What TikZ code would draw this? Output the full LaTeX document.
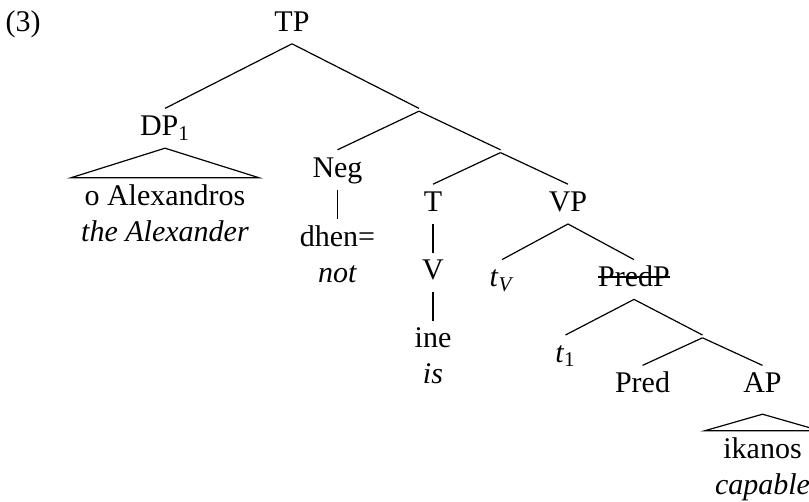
\documentclass[tikz,border=0pt]{standalone}
\usepackage{fontspec}
\setmainfont{Liberation Serif}

\begin{document}
\begin{tikzpicture}[
	x = 0.5pt, y = -0.5pt,
	every node/.style = {anchor = north, inner sep = 3pt, text height = 10.5pt, text depth = 3pt,
		font = \fontsize{15}{18}\selectfont},
	branch/.style = {inner sep = 0pt, text height = 0pt, text depth = 0pt},
	gloss/.style = {align = center, text height =, text depth =},
	roof/.style = {edge from parent path = {([yshift=-#1]\tikzparentnode.south)
		-- (\tikzchildnode.north west) -- (\tikzchildnode.north east) -- cycle}},
	roof/.default = 0pt,
	parent anchor = south, child anchor = north,
	edge from parent/.style = {draw, line width = 0.6pt},
	level 1/.style = {sibling distance = 127pt, level distance = 42.25pt},
	level 2/.style = {sibling distance = 81.5pt, level distance = 20pt},
	level 3/.style = {sibling distance = 67.5pt, level distance = 16.5pt},
	level 4/.style = {sibling distance = 66pt, level distance = 27.75pt},
	level 5/.style = {sibling distance = 68.5pt, level distance = 27.75pt},
	level 6/.style = {sibling distance = 60pt, level distance = 14.5pt},
	level 7/.style = {level distance = 22.75pt}
]
\useasboundingbox (0,0) rectangle (809,502);
\node (exnum) at (23,4) {(3)};
\node (tp) at (292,4) {TP}
child {node (dp) {DP\textsubscript{1}}
	child [roof, level distance = 24.75pt] {node [gloss, inner xsep = 5pt] (dpgloss) {o Alexandros\\\textit{the Alexander}}}
}
child {node [branch] (tbar) {}
	child {node (neg) {Neg}
		child [level distance = 24.75pt] {node [gloss] (dhen) {dhen=\\\textit{not}}}
	}
	child {node [branch] (tbartwo) {}
		child {node (t) {T}
			child [level distance = 24.25pt] {node (v) {V}
				child [level distance = 24.25pt] {node [gloss] (ine) {ine\\\textit{is}}}
			}
		}
		child {node (vp) {VP}
			child {node (tv) {\textit{t}\textsubscript{\textit{V}}}}
			child {node (predp) {PredP}
				child {node (tsubj) {\textit{t}\textsubscript{1}}}
				child {node [branch] (predbar) {}
					child {node (pred) {Pred}}
					child {node (ap) {AP}
						child [roof = 4.5pt] {node [gloss, inner xsep = 5pt] (apgloss) {ikanos\\\textit{capable}}}
					}
				}
			}
		}
	}
};
% struck-out PredP
\draw [line width = 0.6pt] ([xshift = 3pt, yshift = 5pt]predp.base west) -- ([xshift = -3pt, yshift = 5pt]predp.base east);
\end{tikzpicture}
\end{document}
